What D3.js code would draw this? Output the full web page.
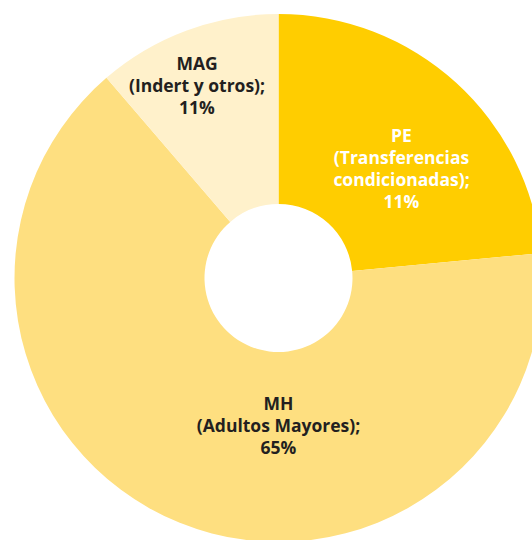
<!DOCTYPE html>
<html>
<head>
<meta charset="utf-8">
<script src="https://cdn.jsdelivr.net/npm/d3@7"></script>
<style>
  html, body { margin: 0; padding: 0; background: #fff; }
  svg { display: block; }
</style>
</head>
<body>
<svg id="chart" width="532" height="540"></svg>
<script>
// slice data, clockwise from 12 o'clock
const categories = ["PE", "MH", "MAG"];
const shares = [23.5, 65.2, 11.3];
const labelLines = [
  ["PE", "(Transferencias", "condicionadas);", "11%"],
  ["MH", "(Adultos Mayores);", "65%"],
  ["MAG", "(Indert y otros);", "11%"]
];
const colors = ["#ffcd00", "#fedf80", "#fff1cb"];
const textColors = ["#ffffff", "#231f20", "#231f20"];

const svg = d3.select("#chart");
const cx = 278.5,
  cy = 278,
  outerR = 264,
  innerR = 74;

const pie = d3.pie().sort(null).value((d) => d);
const arc = d3.arc().innerRadius(innerR).outerRadius(outerR);

const g = svg.append("g").attr("transform", `translate(${cx}, ${cy})`);

// slices
g.selectAll(".slice")
  .data(pie(shares))
  .enter()
  .append("path")
  .attr("class", "slice")
  .attr("d", arc)
  .attr("fill", (d, i) => colors[i]);

// labels (placed by hand like the original)
const labelPos = [
  [123, -136],
  [0, 132],
  [-81.5, -208]
];
const lineH = 22;

g.selectAll(".label")
  .data(labelLines)
  .enter()
  .append("text")
  .attr("class", "label")
  .attr("text-anchor", "middle")
  .attr("fill", (d, i) => textColors[i])
  .style("font-family", "'Open Sans', sans-serif")
  .style("font-weight", 700)
  .style("font-size", "17.5px")
  .attr("transform", (d, i) => `translate(${labelPos[i][0]}, ${labelPos[i][1]})`)
  .selectAll("tspan")
  .data((d) => d)
  .enter()
  .append("tspan")
  .attr("x", 0)
  .attr("y", (d, j) => j * lineH)
  .text((d) => d);
</script>
</body>
</html>
